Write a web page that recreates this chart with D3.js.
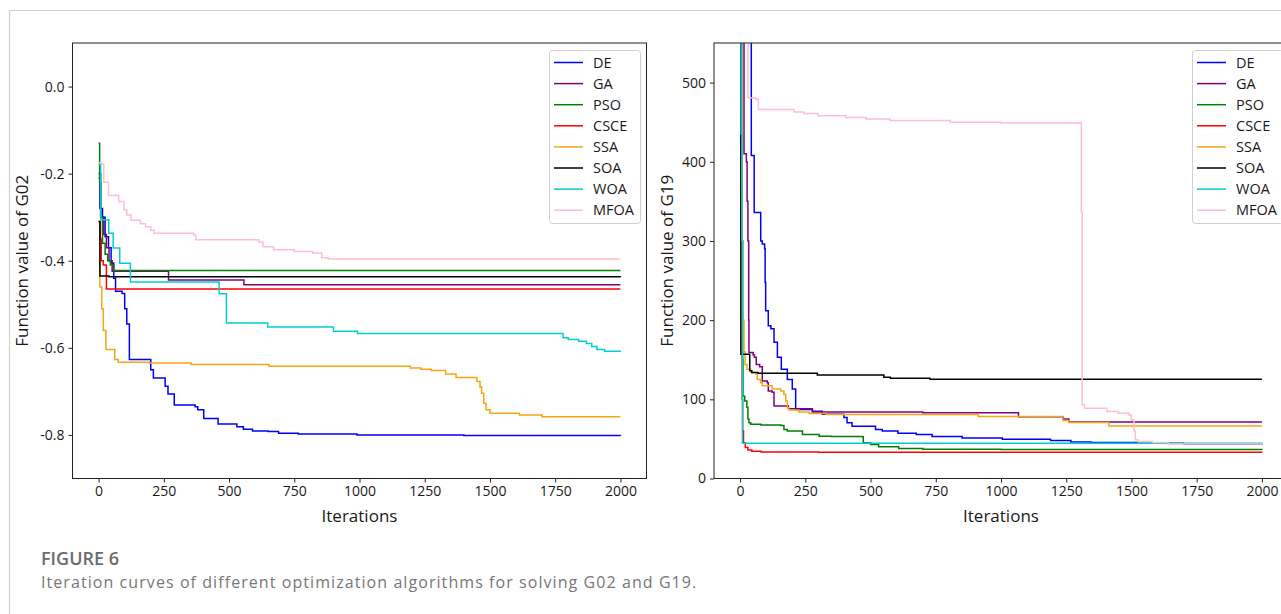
<!DOCTYPE html>
<html>
<head>
<meta charset="utf-8">
<script src="https://cdn.jsdelivr.net/npm/d3@7"></script>
<style>
  body { margin: 0; background: #fff; }
  svg { display: block; }
</style>
</head>
<body>
<div id="chart"></div>
<script>
// series names / colours (same order in both panels)
const algoNames = ["DE", "GA", "PSO", "CSCE", "SSA", "SOA", "WOA", "MFOA"];
const algoColors = ["#0000ff", "#800080", "#008000", "#ff0000", "#f5a516", "#000000", "#00ced1", "#ffc0cb"];

const xTicks = [0, 250, 500, 750, 1000, 1250, 1500, 1750, 2000];
const g02YTicks = [0.0, -0.2, -0.4, -0.6, -0.8];
const g02YLabels = ["0.0", "-0.2", "-0.4", "-0.6", "-0.8"];
const g19YTicks = [0, 100, 200, 300, 400, 500];
const g19YLabels = ["0", "100", "200", "300", "400", "500"];

// G02 curves, [iteration, best value]
const g02DE = [[0,-0.21],[5,-0.28],[15,-0.30],[25,-0.345],[38,-0.37],[48,-0.405],[58,-0.44],[65,-0.47],[90,-0.475],[100,-0.51],[108,-0.545],[118,-0.627],[200,-0.65],[210,-0.669],[255,-0.688],[266,-0.706],[290,-0.731],[370,-0.735],[380,-0.742],[403,-0.762],[458,-0.775],[530,-0.781],[555,-0.787],[590,-0.791],[650,-0.792],[690,-0.796],[765,-0.798],[990,-0.80],[1400,-0.801],[2000,-0.802]];
const g02GA = [[0,-0.20],[8,-0.30],[20,-0.34],[30,-0.37],[40,-0.40],[52,-0.424],[268,-0.444],[557,-0.455],[2000,-0.455]];
const g02PSO = [[0,-0.13],[4,-0.22],[8,-0.30],[15,-0.36],[25,-0.385],[35,-0.40],[45,-0.41],[58,-0.4225],[2000,-0.4225]];
const g02CSCE = [[0,-0.31],[6,-0.35],[10,-0.40],[18,-0.41],[30,-0.465],[2000,-0.465]];
const g02SSA = [[0,-0.40],[5,-0.46],[12,-0.51],[18,-0.56],[28,-0.604],[62,-0.627],[75,-0.633],[194,-0.635],[355,-0.638],[653,-0.642],[1195,-0.646],[1235,-0.649],[1275,-0.652],[1330,-0.66],[1370,-0.668],[1450,-0.677],[1462,-0.69],[1468,-0.704],[1476,-0.727],[1485,-0.742],[1500,-0.75],[1613,-0.754],[1700,-0.758],[2000,-0.758]];
const g02SOA = [[0,-0.31],[5,-0.435],[40,-0.437],[2000,-0.438]];
const g02WOA = [[0,-0.18],[8,-0.306],[39,-0.337],[56,-0.371],[81,-0.406],[122,-0.449],[462,-0.476],[490,-0.543],[648,-0.552],[900,-0.562],[992,-0.567],[1780,-0.577],[1800,-0.581],[1840,-0.585],[1870,-0.59],[1890,-0.597],[1910,-0.604],[1940,-0.608],[2000,-0.609]];
const g02MFOA = [[0,-0.175],[12,-0.178],[20,-0.22],[38,-0.25],[77,-0.264],[97,-0.283],[108,-0.295],[124,-0.307],[160,-0.315],[180,-0.322],[200,-0.33],[212,-0.337],[365,-0.341],[372,-0.352],[615,-0.357],[630,-0.368],[670,-0.375],[750,-0.379],[820,-0.382],[855,-0.393],[880,-0.396],[2000,-0.396]];

// G19 curves
const g19DE = [[0,900],[43,408],[54,336],[79,300],[85,296],[94,290],[96,248],[98,212],[108,193],[118,189],[130,172],[143,153],[158,138],[181,125],[200,113],[213,87],[277,85],[315,81],[398,77],[410,70.5],[429,66],[519,62],[545,60],[605,57],[675,55.5],[736,53],[851,51.3],[1005,49.6],[1190,47.9],[1268,46.2],[1345,45.4],[1522,44.5],[1700,43.7],[2000,42.5]];
const g19GA = [[0,900],[15,410],[24,400],[27,350],[30,300],[33,200],[34,159],[50,156],[55,153],[62,144],[75,141],[85,123],[104,121],[108,110.5],[123,108.8],[130,91.5],[185,88],[277,84],[700,83],[1067,78],[1237,75],[1260,71.5],[2000,71.5]];
const g19PSO = [[0,600],[6,300],[10,150],[11,104],[18,98],[26,90],[30,75],[34,70.5],[41,68.4],[80,67.5],[156,67],[168,62],[181,60],[239,55.7],[303,53.5],[350,53],[469,52.8],[472,45.2],[500,43],[531,40],[608,38],[700,37],[1000,36.5],[2000,36.2]];
const g19CSCE = [[0,600],[5,300],[8,100],[10,60],[13,45],[20,39],[30,36],[45,34.5],[80,33.5],[300,33],[2000,32.8]];
const g19SSA = [[0,700],[5,300],[10,200],[15,160],[19,144],[26,138],[41,134],[60,132],[66,125],[79,121],[85,117],[123,113],[156,110.5],[168,106],[175,98],[181,89.5],[187,86.5],[226,84],[265,82],[330,80.7],[913,78.2],[1237,73.1],[1260,70.6],[1414,66.4],[2000,66.4]];
const g19SOA = [[0,700],[3,157],[37,136],[45,134],[69,133],[296,130.8],[551,128],[576,126.5],[728,125.2],[2000,125.2]];
const g19WOA = [[0,600],[4,435],[7,300],[9,44.5],[2000,44.2]];
const g19MFOA = [[0,900],[30,481],[60,479],[70,466],[206,463],[244,461],[298,458],[406,456],[483,454],[575,452],[806,450],[1000,449],[1306,449],[1308,336],[1311,93],[1320,88.7],[1406,84.5],[1450,82.4],[1491,80],[1500,74],[1510,60],[1515,49],[1525,46.6],[1580,45.4],[1640,43.7],[2000,42]];

const g02Series = [g02DE, g02GA, g02PSO, g02CSCE, g02SSA, g02SOA, g02WOA, g02MFOA];
const g19Series = [g19DE, g19GA, g19PSO, g19CSCE, g19SSA, g19SOA, g19WOA, g19MFOA];

const W = 1281, H = 614;
const font = "'Open Sans', 'Noto Sans', sans-serif";

const svg = d3.select("#chart").append("svg")
  .attr("width", W)
  .attr("height", H);

// outer frame of the figure box
svg.append("path")
  .attr("d", `M9.5,${H} L9.5,10.5 L${W},10.5`)
  .attr("fill", "none")
  .attr("stroke", "#d0d0d0")
  .attr("stroke-width", 1.2);

const panels = [
  { id: "g02", left: 72.5, yDomain: [-0.9, 0.1], yTicks: g02YTicks, yLabels: g02YLabels,
    series: g02Series, ylabel: "Function value of G02", ylabelX: 22, legendX: 549 },
  { id: "g19", left: 714, yDomain: [0, 550], yTicks: g19YTicks, yLabels: g19YLabels,
    series: g19Series, ylabel: "Function value of G19", ylabelX: 667, legendX: 1192 }
];

const plotTop = 43, plotBottom = 478.5, pw = 574;

panels.forEach(p => {
  const x = d3.scaleLinear().domain([-100, 2100]).range([p.left, p.left + pw]);
  const y = d3.scaleLinear().domain(p.yDomain).range([plotBottom, plotTop]);

  const g = svg.append("g");

  g.append("clipPath").attr("id", "clip-" + p.id)
    .append("rect")
    .attr("x", p.left).attr("y", plotTop)
    .attr("width", pw).attr("height", plotBottom - plotTop);

  const line = d3.line()
    .x(d => x(d[0]))
    .y(d => y(d[1]))
    .curve(d3.curveStepAfter);

  const lines = g.append("g").attr("clip-path", `url(#clip-${p.id})`);
  p.series.forEach((s, i) => {
    lines.append("path")
      .datum(s)
      .attr("d", line)
      .attr("fill", "none")
      .attr("stroke", algoColors[i])
      .attr("stroke-width", 1.5);
  });

  // axes
  const xAxis = g.append("g")
    .attr("transform", `translate(0,${plotBottom})`)
    .call(d3.axisBottom(x).tickValues(xTicks).tickFormat(d3.format("d"))
      .tickSizeOuter(0).tickSize(4).tickPadding(4));
  const yAxis = g.append("g")
    .attr("transform", `translate(${p.left},0)`)
    .call(d3.axisLeft(y).tickValues(p.yTicks).tickFormat((d, i) => p.yLabels[i])
      .tickSizeOuter(0).tickSize(4).tickPadding(4));

  [xAxis, yAxis].forEach(a => {
    a.select(".domain").remove();
    a.selectAll("line").attr("stroke", "#222");
    a.selectAll("text")
      .attr("fill", "#1a1a1a")
      .style("font-family", font)
      .style("font-size", "14px");
  });

  // spines
  g.append("rect")
    .attr("x", p.left).attr("y", plotTop)
    .attr("width", pw).attr("height", plotBottom - plotTop)
    .attr("fill", "none")
    .attr("stroke", "#222")
    .attr("stroke-width", 1);

  // axis labels
  g.append("text")
    .attr("x", p.left + pw / 2)
    .attr("y", 522)
    .attr("text-anchor", "middle")
    .style("font-family", font)
    .style("font-size", "17px")
    .attr("fill", "#1a1a1a")
    .text("Iterations");

  g.append("text")
    .attr("transform", `translate(${p.ylabelX + 6},${(plotTop + plotBottom) / 2}) rotate(-90)`)
    .attr("text-anchor", "middle")
    .style("font-family", font)
    .style("font-size", "17px")
    .attr("fill", "#1a1a1a")
    .text(p.ylabel);

  // legend
  const lg = g.append("g").attr("transform", `translate(${p.legendX},50)`);
  lg.append("rect")
    .attr("x", 0.5).attr("y", 0.5)
    .attr("width", 91).attr("height", 173)
    .attr("rx", 3)
    .attr("fill", "#fff")
    .attr("fill-opacity", 0.85)
    .attr("stroke", "#d0d0d0");
  algoNames.forEach((name, i) => {
    const ry = 12.5 + i * 21.1;
    lg.append("line")
      .attr("x1", 5).attr("x2", 34)
      .attr("y1", ry).attr("y2", ry)
      .attr("stroke", algoColors[i])
      .attr("stroke-width", 1.5);
    lg.append("text")
      .attr("x", 44).attr("y", ry + 5)
      .style("font-family", font)
      .style("font-size", "14.5px")
      .attr("fill", "#1a1a1a")
      .text(name);
  });
});

// caption
svg.append("text")
  .attr("x", 41).attr("y", 565)
  .style("font-family", font)
  .style("font-size", "18px")
  .style("font-weight", 600)
  .attr("fill", "#6b6b6b")
  .text("FIGURE 6");

const cap = svg.append("text")
  .attr("x", 41).attr("y", 588)
  .style("font-family", font)
  .style("font-size", "16px")
  .attr("fill", "#777")
  .text("Iteration curves of different optimization algorithms for solving G02 and G19.");
// spread the caption to its width in the reference
const capText = cap.text();
const capLen = cap.node().getComputedTextLength();
cap.style("letter-spacing", ((656 - capLen) / capText.length).toFixed(2) + "px");
</script>
</body>
</html>
